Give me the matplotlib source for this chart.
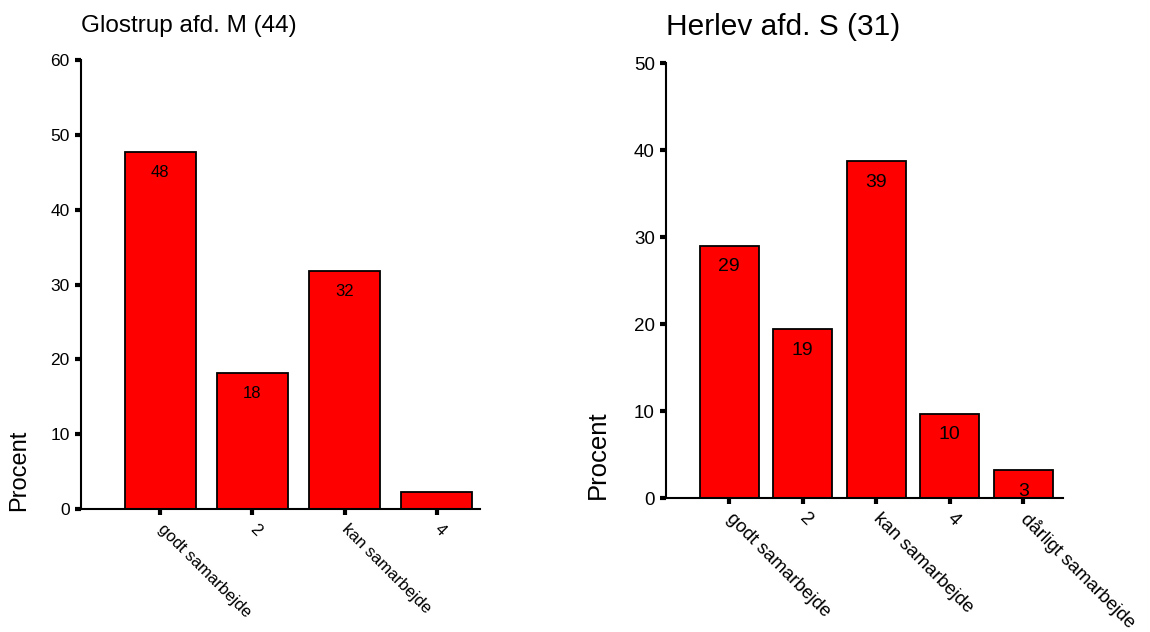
import matplotlib.pyplot as plt

plt.rcParams['font.family'] = ['Liberation Sans', 'DejaVu Sans']

# Glostrup afd. M (n=44)
glostrup_cats = ['godt samarbejde', '2', 'kan samarbejde', '4']
glostrup_pct = [47.7, 18.2, 31.8, 2.3]

# Herlev afd. S (n=31)
herlev_cats = ['godt samarbejde', '2', 'kan samarbejde', '4', 'dårligt samarbejde']
herlev_pct = [29.0, 19.4, 38.7, 9.7, 3.2]


def draw_panel(ax, cats, values, title, ymax, yticks, width, xlim,
               tick_fs, cat_fs, title_fs, label_fs, bar_fs, label_pos):
    x = list(range(len(cats)))
    bars = ax.bar(x, values, width=width, color='#ff0000',
                  edgecolor='black', linewidth=1.3)
    for b, v in zip(bars, values):
        if v < 3:
            continue
        ax.annotate(f'{round(v):d}', (b.get_x() + b.get_width() / 2, v),
                    xytext=(0, -15), textcoords='offset points',
                    ha='center', va='center', fontsize=bar_fs)
    ax.set_xlim(*xlim)
    ax.set_ylim(0, ymax)
    ax.set_yticks(yticks)
    ax.set_xticks(x)
    ax.set_xticklabels(cats, rotation=-45, ha='left', va='center',
                       rotation_mode='anchor', fontsize=cat_fs)
    ax.tick_params(axis='y', labelsize=tick_fs, length=4, width=3, pad=4)
    ax.tick_params(axis='x', length=4, width=3, pad=9)
    for s in ['top', 'right']:
        ax.spines[s].set_visible(False)
    for s in ['left', 'bottom']:
        ax.spines[s].set_linewidth(1.5)
    ax.set_ylabel('Procent', fontsize=label_fs)
    ax.yaxis.set_label_coords(*label_pos)
    ax.set_title(title, loc='left', fontsize=title_fs, pad=20)


fig = plt.figure(figsize=(11.5, 6.32), dpi=100)
ax1 = fig.add_axes([0.0704, 0.1946, 0.347, 0.7104])
ax2 = fig.add_axes([0.579, 0.212, 0.3453, 0.6883])

draw_panel(ax1, glostrup_cats, glostrup_pct, 'Glostrup afd. M (44)', 60,
           range(0, 61, 10), 0.77, (-0.86, 3.47),
           12.5, 12, 17.5, 17, 12, (-0.128, 0.087))
draw_panel(ax2, herlev_cats, herlev_pct, 'Herlev afd. S (31)', 50,
           range(0, 51, 10), 0.8, (-0.86, 4.54),
           13.5, 13.5, 21.5, 18.5, 14, (-0.141, 0.099))

fig.savefig('out.png', dpi=100)
